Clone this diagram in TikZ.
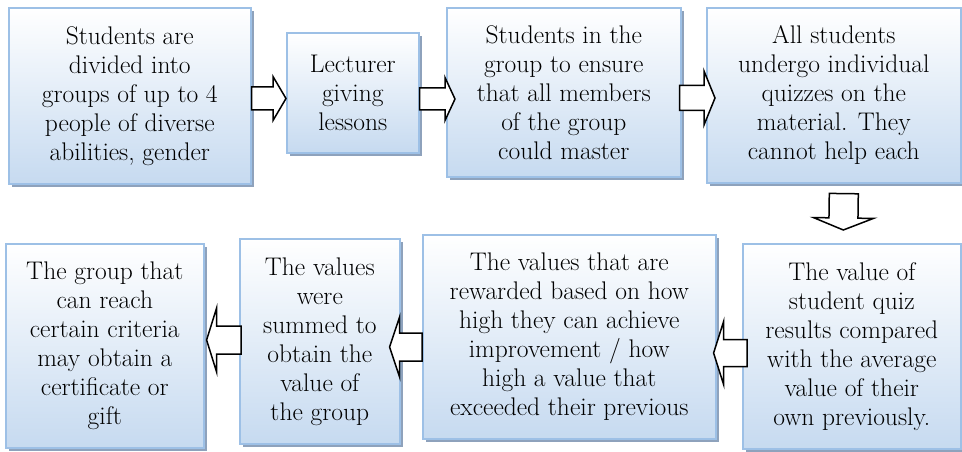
\documentclass[tikz,border=0pt]{standalone}
\usetikzlibrary{calc, shadows}

\definecolor{boxline}{HTML}{9DC0E6}
\definecolor{boxfill}{HTML}{C6DAF0}
\definecolor{boxshade}{HTML}{8EA2BC}

\tikzset{
	stepbox/.style 2 args={draw=boxline, line width=1.6pt, top color=white, bottom color=boxfill, minimum width=#1pt, minimum height=#2pt, anchor=north west, align=center, inner sep=0pt, general shadow={fill=boxshade, shadow xshift=3pt, shadow yshift=-3pt}},
	along/.style={shift={(\x1,\y1)}, rotate=\n1},
	blockarrow/.style n args={3}{draw=black, line width=1.5pt, fill=white, line join=miter, to path={let \p1=(\tikztostart), \p2=(\tikztotarget), \n1={atan2(\y2-\y1,\x2-\x1)}, \n2={veclen(\x2-\x1,\y2-\y1)}, \n3={\n2-#3} in
		([along]0pt,#1pt) -- ([along]\n3*1pt,#1pt) -- ([along]\n3*1pt,#2pt) -- ([along]\n2*1pt,0pt) -- ([along]\n3*1pt,-#2pt) -- ([along]\n3*1pt,-#1pt) -- ([along]0pt,-#1pt) -- cycle}}
}

\begin{document}
\begin{tikzpicture}[x=1pt, y=-1pt, font=\rmfamily\fontsize{25.5}{29}\selectfont]
	\useasboundingbox (0,0) rectangle (962,452);

	\node[stepbox={242}{176}] (s1) at (8,7) {Students are\\divided into\\groups of up to 4\\people of diverse\\abilities, gender};
	\node[stepbox={132}{120}] (s2) at (286,32) {Lecturer\\giving\\lessons};
	\node[stepbox={234}{169}] (s3) at (446,7) {Students in the\\group to ensure\\that all members\\of the group\\could master};
	\node[stepbox={254}{175}] (s4) at (706,7) {All students\\undergo individual\\quizzes on the\\material. They\\cannot help each};
	\node[stepbox={218}{205}] (s5) at (742,243) {The value of\\student quiz\\results compared\\with the average\\value of their\\own previously.};
	\node[stepbox={293}{204}] (s6) at (422,234) {The values that are\\rewarded based on how\\high they can achieve\\improvement / how\\high a value that\\exceeded their previous};
	\node[stepbox={160}{205}] (s7) at (239,238) {The values\\were\\summed to\\obtain the\\value of\\the group};
	\node[stepbox={198}{204}] (s8) at (5,243) {The group that\\can reach\\certain criteria\\may obtain a\\certificate or\\gift};

	\draw[blockarrow={11.5}{22}{13}]	(s1.east |- 0,98.5) to (s2.west |- 0,98.5);
	\draw[blockarrow={11}{21.5}{10}]	(s2.east |- 0,99) to ([xshift=9pt]s3.west |- 0,99);
	\draw[blockarrow={12.5}{27}{11}]	([xshift=-2pt]s3.east |- 0,98) to ([xshift=9pt]s4.west |- 0,98);
	\draw[blockarrow={14.5}{30}{12}]	([shift={(10,10)}]s4.south) to ([shift={(-8.5,-13)}]s5.north);
	\draw[blockarrow={13.5}{31.5}{10}]	([xshift=5pt]s5.west |- 0,353) to ([xshift=-3pt]s6.east |- 0,353);
	\draw[blockarrow={14}{30}{10}]		(s6.west |- 0,347) to ([xshift=-11pt]s7.east |- 0,347);
	\draw[blockarrow={14}{32}{10}]		([xshift=2pt]s7.west |- 0,340) to ([xshift=2pt]s8.east |- 0,340);
\end{tikzpicture}
\end{document}
